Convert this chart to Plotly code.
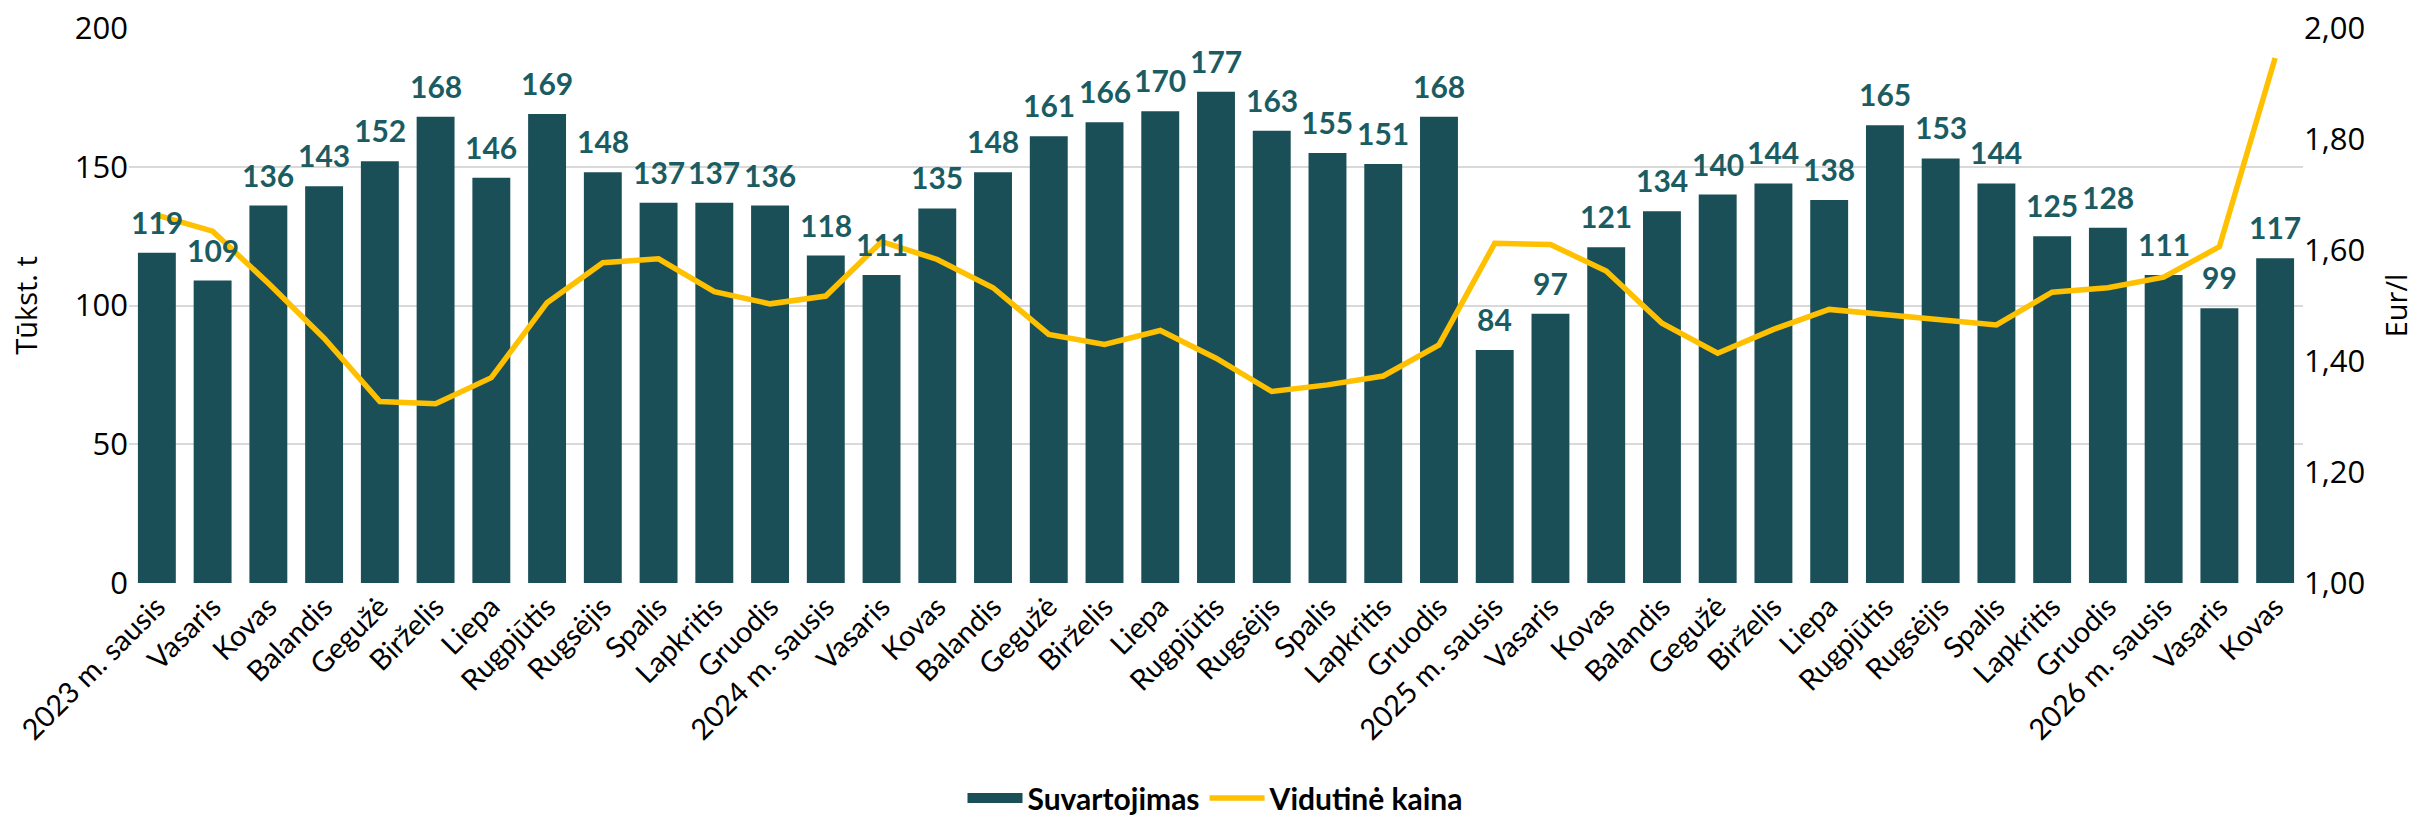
import plotly.graph_objects as go

months = ["2023 m. sausis", "Vasaris", "Kovas", "Balandis", "Gegužė", "Birželis", "Liepa",
          "Rugpjūtis", "Rugsėjis", "Spalis", "Lapkritis", "Gruodis",
          "2024 m. sausis", "Vasaris", "Kovas", "Balandis", "Gegužė", "Birželis", "Liepa",
          "Rugpjūtis", "Rugsėjis", "Spalis", "Lapkritis", "Gruodis",
          "2025 m. sausis", "Vasaris", "Kovas", "Balandis", "Gegužė", "Birželis", "Liepa",
          "Rugpjūtis", "Rugsėjis", "Spalis", "Lapkritis", "Gruodis",
          "2026 m. sausis", "Vasaris", "Kovas"]

consumption = [119, 109, 136, 143, 152, 168, 146, 169, 148, 137, 137, 136,
               118, 111, 135, 148, 161, 166, 170, 177, 163, 155, 151, 168,
               84, 97, 121, 134, 140, 144, 138, 165, 153, 144, 125, 128,
               111, 99, 117]

price = [1.663, 1.634, 1.540, 1.441, 1.327, 1.323, 1.370, 1.505, 1.577, 1.584, 1.525, 1.503,
         1.517, 1.615, 1.583, 1.532, 1.448, 1.430, 1.455, 1.405, 1.345, 1.357, 1.373, 1.429,
         1.612, 1.610, 1.562, 1.468, 1.414, 1.457, 1.493, 1.484, 1.474, 1.465, 1.524, 1.532,
         1.551, 1.606, 1.946]

x = list(range(len(months)))

BAR = "#1a4f57"
LABEL = "#1b5c62"
LINE = "#FFC000"
FONT = "Lato, 'Open Sans', sans-serif"
TICKFONT = "'Open Sans', sans-serif"

fig = go.Figure()
fig.add_trace(go.Bar(
    x=x, y=consumption, name="Suvartojimas", showlegend=False,
    marker=dict(color=BAR, line=dict(width=0)),
))
# legend-only swatch for the bars (wide rectangle as in the reference)
fig.add_trace(go.Scatter(
    x=[None], y=[None], name="Suvartojimas", mode="lines",
    line=dict(color=BAR, width=22),
))
fig.add_trace(go.Scatter(
    x=x, y=price, name="Vidutinė kaina", yaxis="y2", mode="lines",
    line=dict(color=LINE, width=5.5),
))

# data labels above the bars
for xi, v in zip(x, consumption):
    fig.add_annotation(
        x=xi, y=v, xref="x", yref="y", text=str(v), showarrow=False,
        yanchor="bottom", yshift=11,
        font=dict(family=FONT, size=30, color=LABEL, weight="bold"),
    )

fig.update_layout(
    width=2433, height=824,
    margin=dict(l=129, r=130, t=28, b=241),
    paper_bgcolor="white", plot_bgcolor="white",
    separators=", ",
    bargap=0.32,
    font=dict(family=FONT, size=24, color="#000000"),
    xaxis=dict(
        tickmode="array", tickvals=x, ticktext=months, tickangle=-45,
        range=[-0.5, len(months) - 0.5], showgrid=False, zeroline=False,
        showline=False, ticks="", tickfont=dict(size=29, family=FONT),
        automargin=False,
    ),
    yaxis=dict(
        range=[0, 200], dtick=50, showgrid=True, gridcolor="#d9d9d9", gridwidth=2,
        zeroline=False, showline=False, ticks="", automargin=False,
        tickfont=dict(size=31, family=TICKFONT),
        title=dict(text="Tūkst. t", font=dict(size=29, family=TICKFONT), standoff=28),
    ),
    yaxis2=dict(
        overlaying="y", side="right", range=[1.0, 2.0], dtick=0.2, tickformat=".2f",
        showgrid=False, zeroline=False, showline=False, ticks="", automargin=False,
        tickfont=dict(size=31, family=TICKFONT),
        title=dict(text="Eur/l", font=dict(size=29, family=TICKFONT), standoff=22),
    ),
    legend=dict(
        orientation="h", x=0.5, xanchor="center",
        yref="container", y=-0.02, yanchor="bottom",
        font=dict(size=30, family=FONT, weight="bold"), itemwidth=55,
        traceorder="normal",
    ),
)

fig.write_html(
    "out.html",
    config={"displayModeBar": False},
    post_script="document.body.style.margin='0';document.body.style.overflow='hidden';",
)
